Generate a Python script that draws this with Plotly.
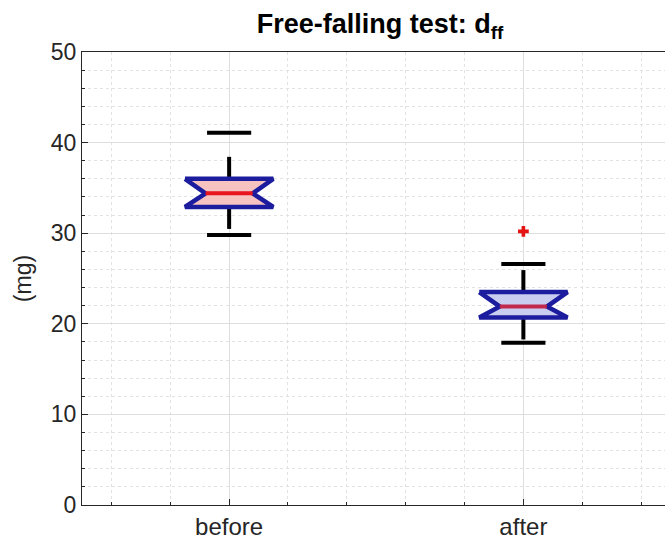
import plotly.graph_objects as go

# Summary statistics of the two measurement groups (mg)
groups = ["before", "after"]
positions = [1, 2]
q1 = [32.9, 20.7]
median = [34.4, 21.9]
q3 = [36.0, 23.5]
notch_low = [32.9, 20.7]
notch_high = [36.0, 23.5]
lower_whisker = [29.8, 17.9]
upper_whisker = [41.1, 26.6]
outlier_pos = [2]
outlier_val = [30.2]

y_ticks = [0, 10, 20, 30, 40, 50]

# Styling
BOX_HW = 0.15      # half width of the box
NOTCH_HW = 0.08    # half width at the notch waist
CAP_HW = 0.075     # half width of whisker caps
fills = ["#f6c3c1", "#c9cdf0"]
median_colors = ["#e8141e", "#c2284c"]
edge_color = "#1c1c9e"
axis_color = "#262626"
FONT = "Liberation Sans, Arial, Helvetica, sans-serif"

fig = go.Figure()

for i, x in enumerate(positions):
    # whiskers (dashed, drawn from the box outward) and caps
    for start, end in ((q3[i], upper_whisker[i]), (q1[i], lower_whisker[i])):
        fig.add_trace(go.Scatter(
            x=[x, x], y=[start, end], mode="lines",
            line=dict(color="black", width=4, dash="22px,40px"),
            showlegend=False, hoverinfo="skip"))
        fig.add_trace(go.Scatter(
            x=[x - CAP_HW, x + CAP_HW], y=[end, end], mode="lines",
            line=dict(color="black", width=4),
            showlegend=False, hoverinfo="skip"))

    # notched box outline
    bx = [x - BOX_HW, x + BOX_HW, x + BOX_HW, x + NOTCH_HW, x + BOX_HW,
          x + BOX_HW, x - BOX_HW, x - BOX_HW, x - NOTCH_HW, x - BOX_HW, x - BOX_HW]
    by = [q3[i], q3[i], notch_high[i], median[i], notch_low[i],
          q1[i], q1[i], notch_low[i], median[i], notch_high[i], q3[i]]
    fig.add_trace(go.Scatter(
        x=bx, y=by, mode="lines", fill="toself", fillcolor=fills[i],
        line=dict(color=edge_color, width=4.5, shape="linear"),
        showlegend=False, hoverinfo="skip"))

    # median
    fig.add_trace(go.Scatter(
        x=[x - NOTCH_HW, x + NOTCH_HW], y=[median[i], median[i]], mode="lines",
        line=dict(color=median_colors[i], width=4),
        showlegend=False, hoverinfo="skip"))

# outliers
fig.add_trace(go.Scatter(
    x=outlier_pos, y=outlier_val, mode="markers",
    marker=dict(symbol="cross", size=9, color="#e41414", line=dict(width=0)),
    showlegend=False, hoverinfo="skip"))

W, H = 665, 547
L, T, B = 82, 52, 42
unit = 294.0
x_right = 0.5 + (W - L - 0.5) / unit

minor_grid = "#e2e2e2"
major_grid = "#dedede"

fig.update_layout(
    width=W, height=H,
    margin=dict(l=L, r=0, t=T, b=B, pad=0),
    paper_bgcolor="white", plot_bgcolor="white",
    font=dict(family=FONT, size=23, color=axis_color),
    title=dict(
        text="<b>Free-falling test: d<sub>ff</sub></b>",
        x=380 / W, xanchor="center", xref="container",
        y=1 - 24 / H, yanchor="middle", yref="container",
        font=dict(family=FONT, size=27, color="black")),
    xaxis=dict(
        range=[0.5, x_right], tickmode="array",
        tickvals=positions, ticktext=groups,
        showline=True, linecolor=axis_color, linewidth=1, mirror=True,
        ticks="inside", ticklen=6, tickcolor=axis_color,
        showgrid=True, gridcolor=major_grid, gridwidth=1,
        zeroline=False,
        minor=dict(tick0=0, dtick=0.2, ticks="inside", ticklen=3,
                   tickcolor=axis_color, showgrid=True,
                   gridcolor=minor_grid, griddash="dot", gridwidth=1),
        tickfont=dict(size=24)),
    yaxis=dict(
        range=[0, 50], tickvals=y_ticks,
        showline=True, linecolor=axis_color, linewidth=1, mirror=False,
        ticks="inside", ticklen=6, tickcolor=axis_color,
        showgrid=True, gridcolor=major_grid, gridwidth=1,
        zeroline=False,
        minor=dict(tick0=0, dtick=2, ticks="inside", ticklen=3,
                   tickcolor=axis_color, showgrid=True,
                   gridcolor=minor_grid, griddash="dot", gridwidth=1),
        title=dict(text="(mg)", standoff=12, font=dict(size=23)),
        tickfont=dict(size=23)),
)

fig.write_html("out.html")
